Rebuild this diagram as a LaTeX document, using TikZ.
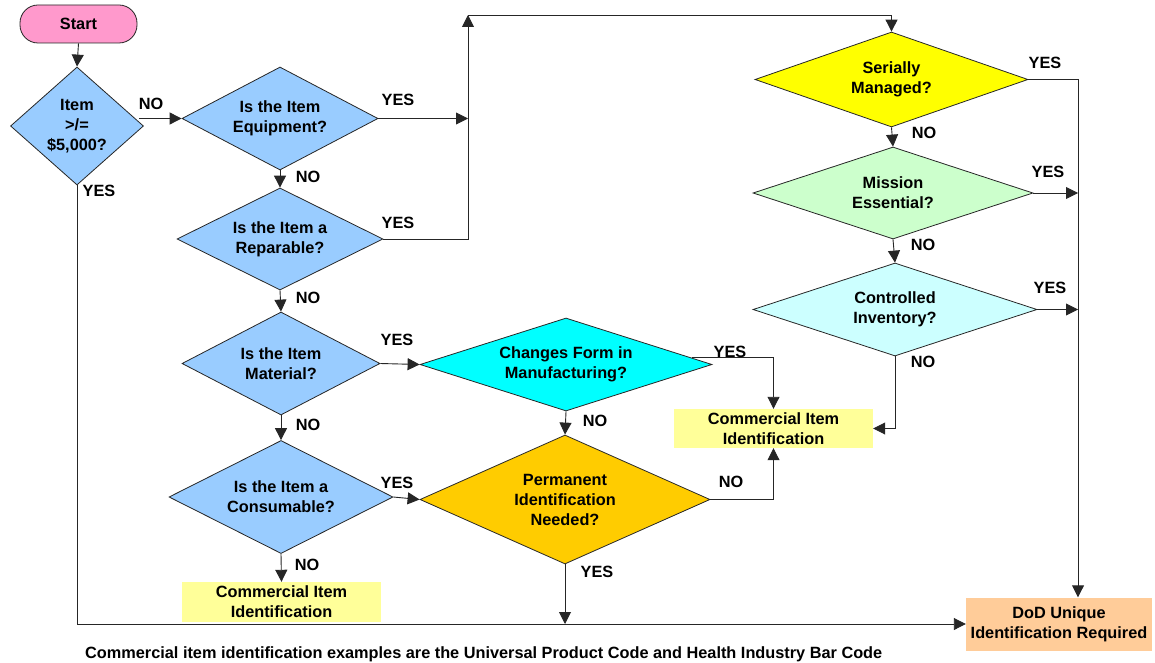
\documentclass[tikz,border=0pt]{standalone}
\usepackage{fontspec}
\setmainfont{Liberation Sans}
\usetikzlibrary{shapes.geometric,arrows.meta,calc}
\definecolor{linec}{HTML}{262626}
\definecolor{bluefill}{HTML}{99CCFF}
\definecolor{pinkfill}{HTML}{FF99CC}
\definecolor{yellowfill}{HTML}{FFFF00}
\definecolor{greenfill}{HTML}{CCFFCC}
\definecolor{paleblue}{HTML}{CCFFFF}
\definecolor{cyanfill}{HTML}{00FFFF}
\definecolor{goldfill}{HTML}{FFCC00}
\definecolor{paleyellow}{HTML}{FFFF99}
\definecolor{peach}{HTML}{FFCC99}
\begin{document}
\begin{tikzpicture}[x=1pt,y=-1pt,
  every node/.style={font=\fontsize{16.3}{20}\selectfont\bfseries, text=black},
  dia/.style={diamond, draw=linec, line width=0.8pt, inner sep=0pt, align=center},
  idbox/.style={rectangle, inner sep=0pt, align=center},
  lbl/.style={inner sep=0pt},
  arr/.style={draw=linec, line width=0.9pt, -{Triangle[length=12pt,width=12pt]}},
  ln/.style={draw=linec, line width=0.9pt}]
\useasboundingbox (0,0) rectangle (1155,663);

% nodes
\node[rectangle, rounded corners=18pt, draw=linec, line width=0.8pt, fill=pinkfill,
      minimum width=117pt, minimum height=38pt, inner sep=0pt] (start) at (78.5,24) {Start};
\node[dia, fill=bluefill, minimum width=133pt, minimum height=118pt, shape aspect=1.13] (item) at (77,126) {Item\\>/=\\\$5,000?};
\node[dia, fill=bluefill, minimum width=196pt, minimum height=103pt, shape aspect=1.9] (eq) at (280,118.5) {Is the Item\\Equipment?};
\node[dia, fill=bluefill, minimum width=206pt, minimum height=102pt, shape aspect=2] (rep) at (280,239) {Is the Item a\\Reparable?};
\node[dia, fill=bluefill, minimum width=198pt, minimum height=103pt, shape aspect=1.9] (mat) at (281,363.5) {Is the Item\\Material?};
\node[dia, fill=bluefill, minimum width=224pt, minimum height=113pt, shape aspect=2] (cons) at (281,497) {Is the Item a\\Consumable?};
\node[idbox, fill=paleyellow, minimum width=199pt, minimum height=40pt] (comm1) at (281.5,602) {Commercial Item\\Identification};
\node[dia, fill=cyanfill, minimum width=292pt, minimum height=93pt, shape aspect=3.1] (chg) at (566,364.5) {Changes Form in\\Manufacturing?};
\node[dia, fill=goldfill, minimum width=290pt, minimum height=129pt, shape aspect=2.25] (perm) at (565,499.5) {Permanent\\Identification\\Needed?};
\node[idbox, fill=paleyellow, minimum width=199pt, minimum height=39pt] (comm2) at (773.5,428.5) {Commercial Item\\Identification};
\node[dia, fill=yellowfill, minimum width=273pt, minimum height=95pt, shape aspect=2.9] (serial) at (891.5,79.5) {Serially\\Managed?};
\node[dia, fill=greenfill, minimum width=280pt, minimum height=92pt, shape aspect=3] (mission) at (893,193) {Mission\\Essential?};
\node[dia, fill=paleblue, minimum width=284pt, minimum height=93pt, shape aspect=3] (ctrl) at (895,309.5) {Controlled\\Inventory?};
\node[idbox, fill=peach, minimum width=186pt, minimum height=53pt] (dod) at (1059,624) {DoD Unique\\Identification Required};
\node[lbl, anchor=west] (caption) at (85,654) {Commercial item identification examples are the Universal Product Code and Health Industry Bar Code};

% helper coordinates
\coordinate (jt) at (468,15);
\path (dod.north) ++(19,0) coordinate (rb);

% connectors
\draw[arr] (start.south) -- (item.north);
\draw[arr] (item.east |- eq.west) ++(-5,0) -- (eq.west);
\draw[arr] (eq.east) -- (eq.east -| jt);
\draw[arr] (rep.east) -| (jt);
\draw[arr] (jt) -| (serial.north);
\draw[arr] (eq.south) -- (rep.north);
\draw[arr] (rep.south) -- (mat.north);
\draw[arr] (mat.south) -- (cons.north);
\draw[arr] (cons.south) -- (comm1.north);
\draw[arr] (mat.east) -- (chg.west);
\draw[arr] (cons.east) -- (perm.west);
\draw[arr] (chg.south) -- (perm.north);
\draw[arr] (chg.3) -| (comm2.north);
\draw[arr] (perm.east) -| (comm2.south);
\draw[arr] (ctrl.south) |- (comm2.east);
\draw[arr] (serial.south) -- (mission.north);
\draw[arr] (mission.south) -- (ctrl.north);
\draw[arr] (serial.east) -| (rb);
\draw[arr] (mission.east) -- (mission.east -| rb);
\draw[arr] (ctrl.east) -- (ctrl.east -| rb);
\draw[arr] (item.south) |- (dod.west);
\draw[arr] (perm.south) -- (perm.south |- dod.west);

% labels
\node[lbl] (l1) at (151,104) {NO};
\node[lbl] (l2) at (99,191) {YES};
\node[lbl] (l3) at (398,100) {YES};
\node[lbl] (l4) at (308,177) {NO};
\node[lbl] (l5) at (398,223) {YES};
\node[lbl] (l6) at (308,298) {NO};
\node[lbl] (l7) at (397,340) {YES};
\node[lbl] (l8) at (308,425) {NO};
\node[lbl] (l9) at (397,483) {YES};
\node[lbl] (l10) at (307,565) {NO};
\node[lbl] (l11) at (730,352) {YES};
\node[lbl] (l12) at (595,421) {NO};
\node[lbl] (l13) at (731,482) {NO};
\node[lbl] (l14) at (597,572) {YES};
\node[lbl] (l15) at (1045,63) {YES};
\node[lbl] (l16) at (924,133) {NO};
\node[lbl] (l17) at (1048,172) {YES};
\node[lbl] (l18) at (923,245) {NO};
\node[lbl] (l19) at (1050,288) {YES};
\node[lbl] (l20) at (923,362) {NO};
\end{tikzpicture}
\end{document}
